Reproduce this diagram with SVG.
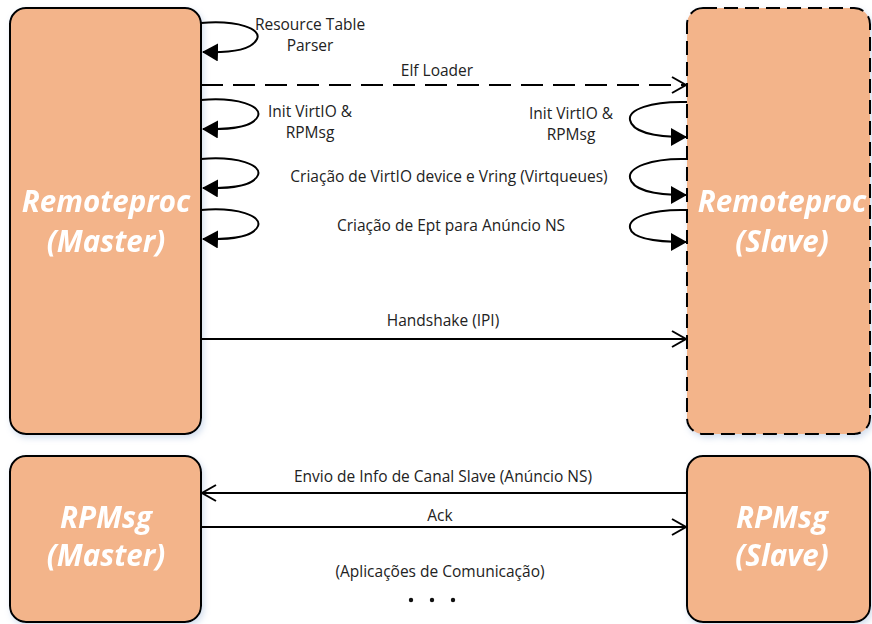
<svg xmlns="http://www.w3.org/2000/svg" width="872" height="624" viewBox="0 0 872 624">
  <style>
    .box { fill: #F3B48A; stroke: #000; stroke-width: 2; }
    .dashed { stroke-dasharray: 14 7; }
    .title { font-family: "Open Sans", "Liberation Sans", sans-serif; font-size: 29.5px; font-weight: bold; font-style: italic; fill: #fff; text-anchor: middle; }
    .lbl { font-family: "Open Sans", "Liberation Sans", sans-serif; font-size: 15.5px; fill: #222; text-anchor: middle; }
    .line { fill: none; stroke: #000; stroke-width: 2; }
    .loop { fill: none; stroke: #000; stroke-width: 2; }
  </style>
  <defs>
    <filter id="shadow" x="-10%" y="-10%" width="130%" height="130%">
      <feGaussianBlur in="SourceAlpha" stdDeviation="3"/>
      <feOffset dx="2" dy="3" result="b"/>
      <feFlood flood-color="#9fb7d8" flood-opacity="0.45"/>
      <feComposite in2="b" operator="in"/>
      <feMerge><feMergeNode/><feMergeNode in="SourceGraphic"/></feMerge>
    </filter>
    <marker id="open" markerUnits="userSpaceOnUse" markerWidth="18" markerHeight="20" refX="15" refY="9" orient="auto">
      <path d="M1,1 L15,9 L1,17" fill="none" stroke="#000" stroke-width="2"/>
    </marker>
    <marker id="solid" markerUnits="userSpaceOnUse" markerWidth="18" markerHeight="20" refX="15" refY="9" orient="auto">
      <path d="M0,0 L16,9 L0,18 Z" fill="#000"/>
    </marker>
  </defs>

  <!-- nodes -->
  <g id="remoteproc-master" filter="url(#shadow)">
    <rect class="box" x="10" y="8" width="191" height="426" rx="16"/>
    <text class="title" x="106" y="212">Remoteproc</text>
    <text class="title" x="106" y="252">(Master)</text>
  </g>
  <g id="remoteproc-slave" filter="url(#shadow)">
    <rect class="box dashed" x="687" y="8" width="183" height="426" rx="16"/>
    <text class="title" x="782" y="212">Remoteproc</text>
    <text class="title" x="782" y="252">(Slave)</text>
  </g>
  <g id="rpmsg-master" filter="url(#shadow)">
    <rect class="box" x="10" y="456" width="191" height="166" rx="16"/>
    <text class="title" x="106" y="528">RPMsg</text>
    <text class="title" x="106" y="566">(Master)</text>
  </g>
  <g id="rpmsg-slave" filter="url(#shadow)">
    <rect class="box" x="687" y="456" width="183" height="166" rx="16"/>
    <text class="title" x="782" y="528">RPMsg</text>
    <text class="title" x="782" y="566">(Slave)</text>
  </g>

  <!-- connectors -->
  <g id="connectors">
    <!-- self loops on master -->
    <path class="loop" d="M201,23 C238,20 262,29 257,39 C252,49 236,53 203,52" marker-end="url(#solid)"/>
    <path class="loop" d="M201,100 C238,97 262,106 258,116 C254,126 236,130 203,129" marker-end="url(#solid)"/>
    <path class="loop" d="M201,159 C238,156 262,165 258,175 C254,185 236,189 203,188" marker-end="url(#solid)"/>
    <path class="loop" d="M201,210 C238,207 262,216 258,226 C254,236 236,240 203,239" marker-end="url(#solid)"/>

    <!-- self loops on slave -->
    <path class="loop" d="M687,102 C650,101 628,110 630,120 C632,131 652,137 686,137" marker-end="url(#solid)"/>
    <path class="loop" d="M687,159 C650,158 628,168 630,178 C632,189 652,195 686,195" marker-end="url(#solid)"/>
    <path class="loop" d="M687,210 C650,209 628,218 630,228 C632,238 652,242 686,242" marker-end="url(#solid)"/>

    <!-- messages -->
    <line class="line" x1="201" y1="85" x2="686" y2="85" stroke-dasharray="22 10" marker-end="url(#open)"/>
    <line class="line" x1="201" y1="339" x2="686" y2="339" marker-end="url(#open)"/>
    <line class="line" x1="687" y1="493" x2="202" y2="493" marker-end="url(#open)"/>
    <line class="line" x1="201" y1="527" x2="686" y2="527" marker-end="url(#open)"/>
  </g>

  <!-- labels -->
  <g id="labels">
    <text class="lbl" x="310" y="30">Resource Table</text>
    <text class="lbl" x="310" y="51">Parser</text>
    <text class="lbl" x="437" y="76">Elf Loader</text>
    <text class="lbl" x="310" y="117">Init VirtIO &amp;</text>
    <text class="lbl" x="310" y="138">RPMsg</text>
    <text class="lbl" x="571" y="119">Init VirtIO &amp;</text>
    <text class="lbl" x="571" y="140">RPMsg</text>
    <text class="lbl" x="449" y="182">Criação de VirtIO device e Vring (Virtqueues)</text>
    <text class="lbl" x="451" y="231">Criação de Ept para Anúncio NS</text>
    <text class="lbl" x="443" y="326">Handshake (IPI)</text>
    <text class="lbl" x="443" y="482">Envio de Info de Canal Slave (Anúncio NS)</text>
    <text class="lbl" x="440" y="521">Ack</text>
    <text class="lbl" x="440" y="577">(Aplicações de Comunicação)</text>
    <circle cx="411" cy="600" r="2.2" fill="#111"/>
    <circle cx="432" cy="600" r="2.2" fill="#111"/>
    <circle cx="453" cy="600" r="2.2" fill="#111"/>
  </g>
</svg>
